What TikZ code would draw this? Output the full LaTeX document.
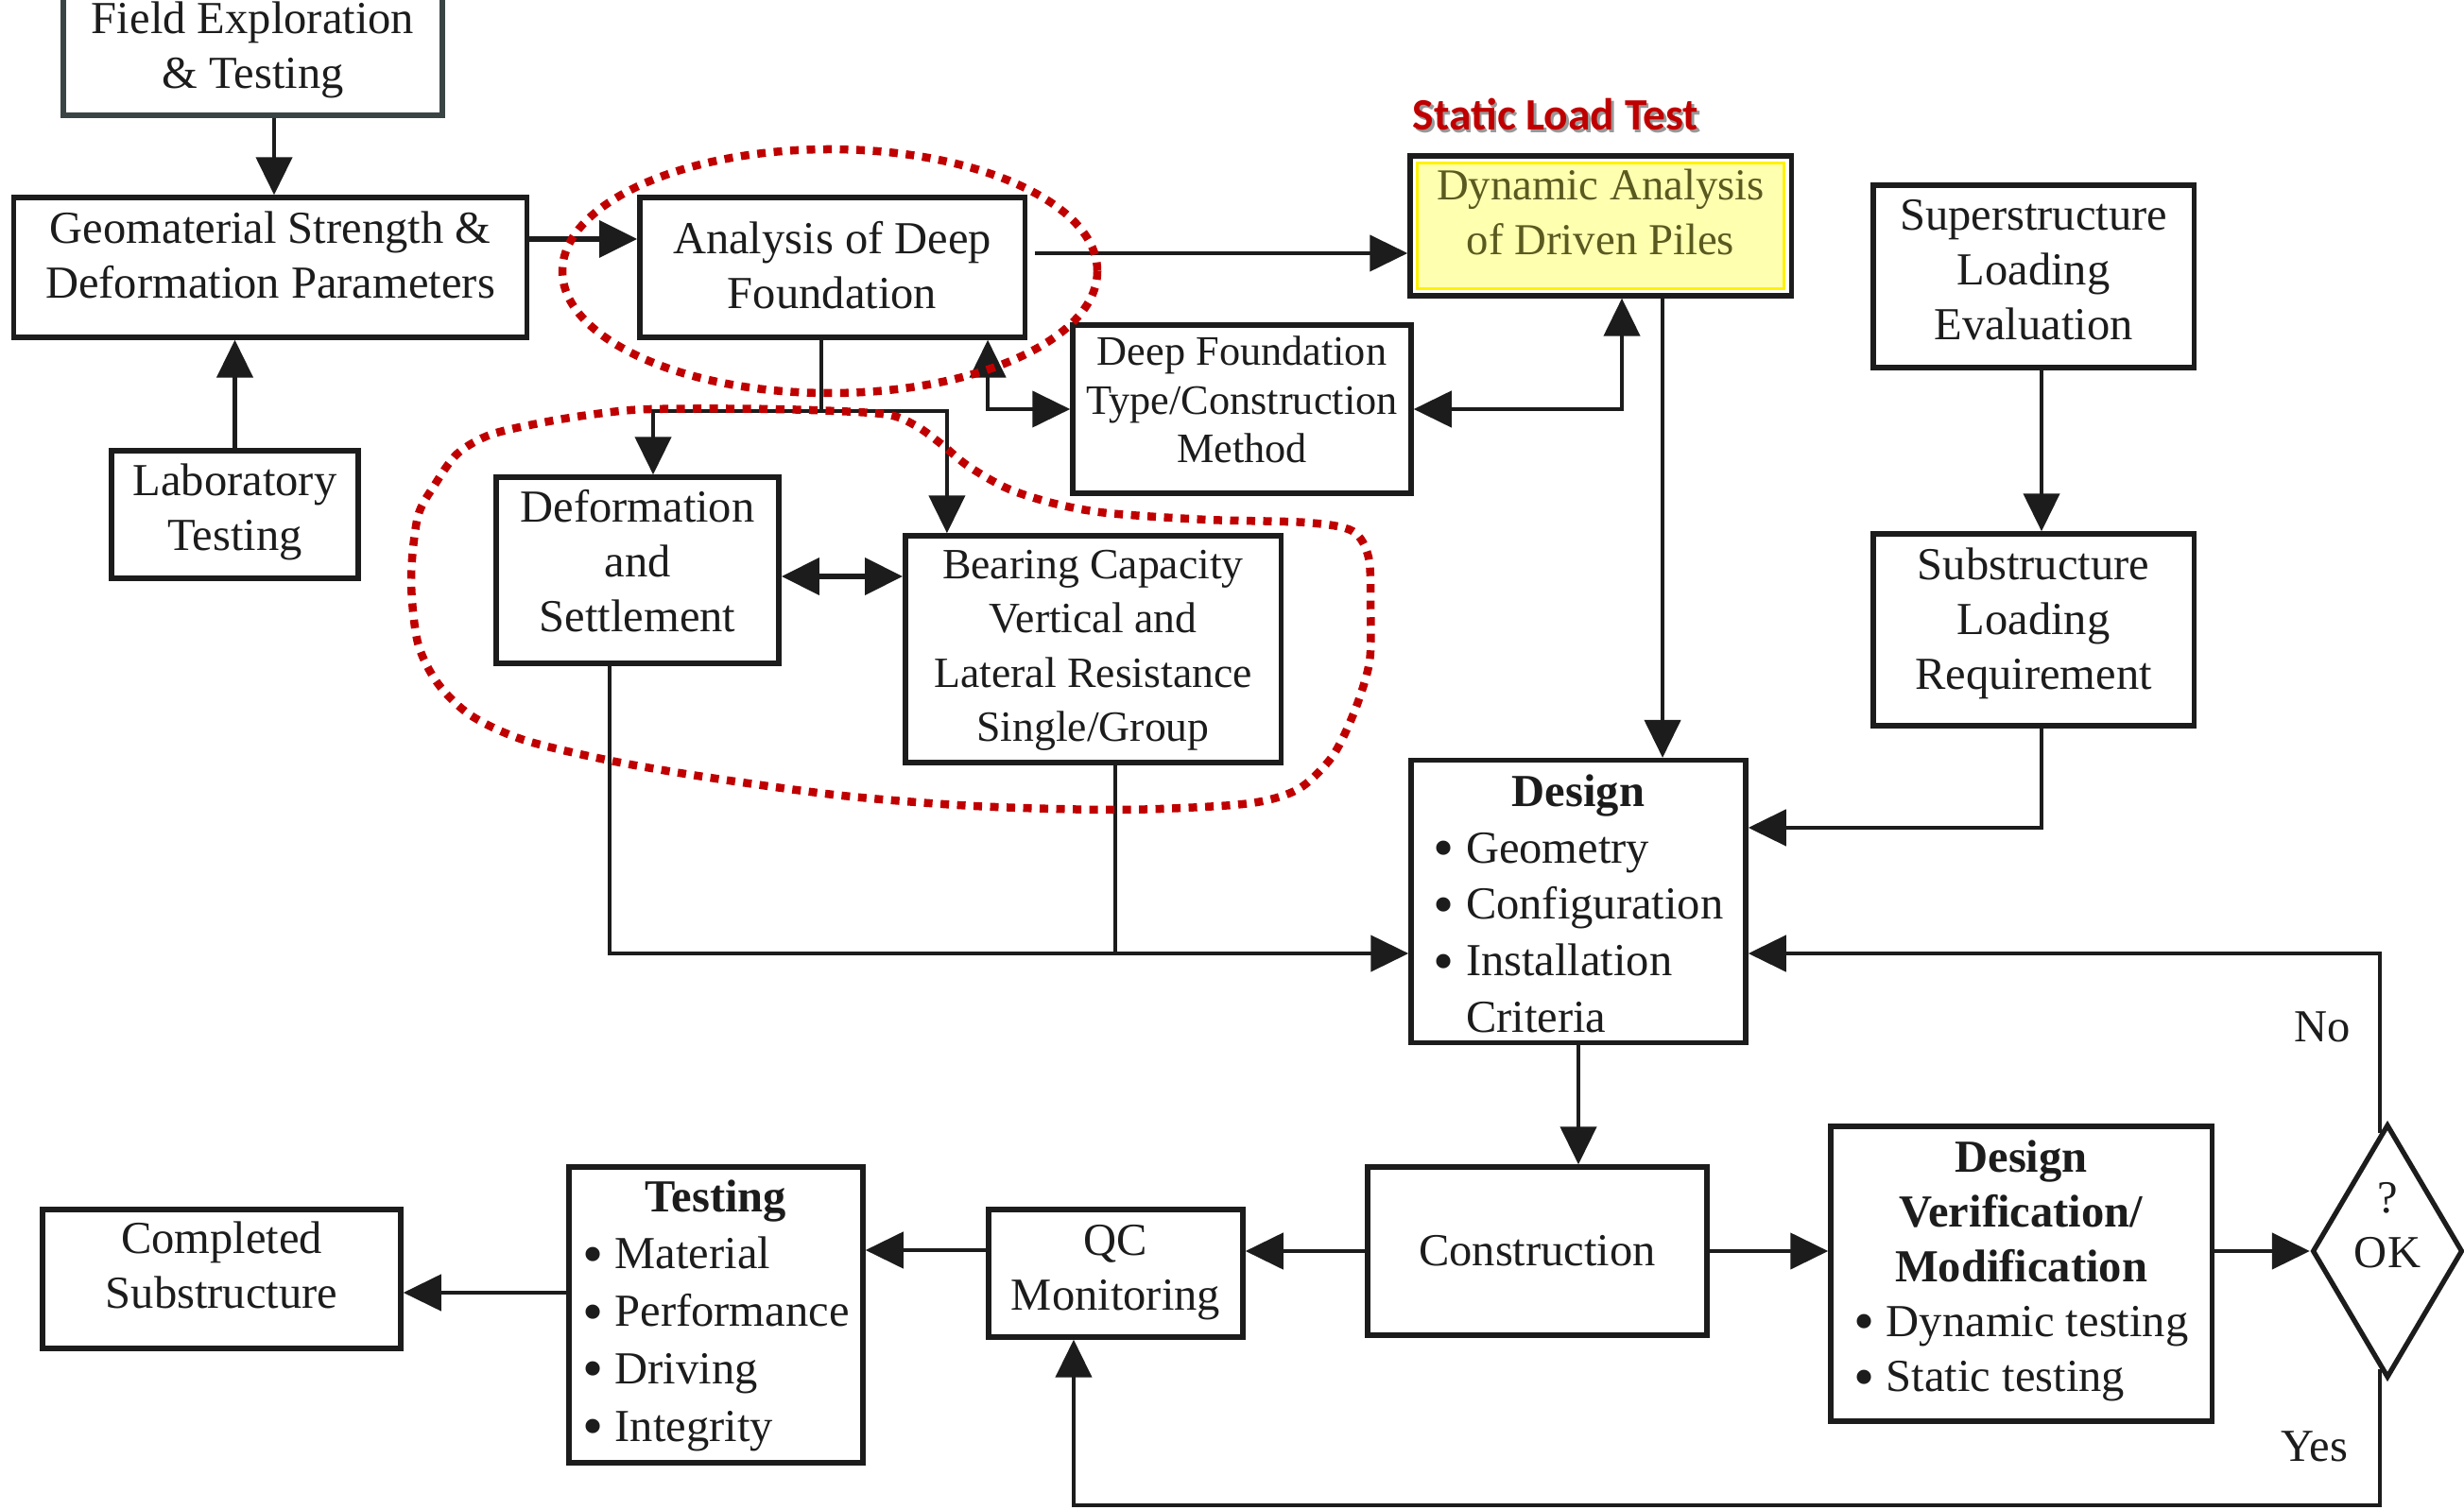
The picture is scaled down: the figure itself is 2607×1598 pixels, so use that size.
\documentclass[tikz,border=0pt]{standalone}
\usepackage{fontspec}
\usepackage{graphicx}
\setmainfont{Liberation Serif}
\newfontfamily\calfont{Carlito}
\usetikzlibrary{arrows.meta,shapes.geometric,calc}

\definecolor{ink}{HTML}{1C1C1C}
\definecolor{frame}{HTML}{3A4444}
\definecolor{dotred}{HTML}{C00000}
\definecolor{paleyel}{HTML}{FFFFB0}
\definecolor{piletext}{HTML}{5A5A20}

% bullet used in the item lists
\newcommand{\bul}{\raisebox{-0.11em}{\scalebox{1.3}{\textbullet}}\ }
% centred block of lines, lifted by #1 without changing its declared size
\newcommand{\tx}[2]{\raisebox{#1}[\height][\depth]{\begin{tabular}{@{}c@{}}#2\end{tabular}}}
% list block (first column header centred), lifted by #1
\newcommand{\tl}[2]{\raisebox{#1}[\height][\depth]{\begin{tabular}{@{}l@{}}#2\end{tabular}}}

\tikzset{
  box/.style={draw=ink, line width=1.5pt, rectangle, inner sep=0pt, align=center,
    text=ink, font=\fontsize{13.8}{16.5}\selectfont},
  conn/.style={draw=ink, line width=1.25pt},
  arr/.style={conn, -{Triangle[length=0.4cm,width=0.38cm]}},
  darr/.style={conn, {Triangle[length=0.4cm,width=0.38cm]}-{Triangle[length=0.4cm,width=0.38cm]}},
  reddots/.style={draw=dotred, line width=0.085cm, dash pattern=on 0.09cm off 0.085cm},
  lbl/.style={text=ink, inner sep=0pt, font=\fontsize{13.8}{16.5}\selectfont},
}

\begin{document}
\begin{tikzpicture}[x=0.01cm, y=-0.01cm]
\fill[white] (0,0) rectangle (2607,1598);
\useasboundingbox (0,0) rectangle (2607,1598);

% ---------- boxes ----------
\node[box, draw=frame, minimum width=4.01cm, minimum height=1.48cm] (field) at (267.5,48)
  {\tx{-0.05cm}{Field Exploration\\\& Testing}};
\node[box, minimum width=5.42cm, minimum height=1.48cm] (geo) at (286,283)
  {\tx{0.08cm}{Geomaterial Strength \&\\Deformation Parameters}};
\node[box, minimum width=4.07cm, minimum height=1.48cm] (analysis) at (880.5,283)
  {\tx{-0.03cm}{Analysis of Deep\\Foundation}};
\node[box, minimum width=4.03cm, minimum height=1.48cm, fill=white, text=piletext,
  font=\fontsize{13.3}{16.5}\selectfont,
  path picture={\draw[draw=yellow, line width=1pt, fill=paleyel]
    ([shift={(0.075cm,-0.075cm)}]path picture bounding box.north west) rectangle
    ([shift={(-0.075cm,0.075cm)}]path picture bounding box.south east);}]
  (dynamic) at (1693.5,239) {\tx{0.10cm}{Dynamic Analysis\\of Driven Piles}};
\node[box, minimum width=3.39cm, minimum height=1.93cm] (super) at (2151.5,292.5)
  {\tx{0.03cm}{Superstructure\\Loading\\Evaluation}};
\node[box, minimum width=2.61cm, minimum height=1.35cm] (lab) at (248.5,544.5)
  {\tx{0.03cm}{Laboratory\\Testing}};
\node[box, minimum width=3.58cm, minimum height=1.78cm, font=\fontsize{12.6}{14.6}\selectfont]
  (dft) at (1314,433) {\tx{0.05cm}{Deep Foundation\\Type/Construction\\Method}};
\node[box, minimum width=2.99cm, minimum height=1.97cm] (deform) at (674.5,603.5)
  {\tx{0.05cm}{Deformation\\and\\Settlement}};
\node[box, minimum width=3.97cm, minimum height=2.40cm, font=\fontsize{13}{16.3}\selectfont]
  (bearing) at (1156.5,687) {\tx{0cm}{Bearing Capacity\\Vertical and\\Lateral Resistance\\Single/Group}};
\node[box, minimum width=3.39cm, minimum height=2.03cm] (sub) at (2151.5,666.5)
  {\tx{0.07cm}{Substructure\\Loading\\Requirement}};
\node[box, minimum width=3.54cm, minimum height=2.98cm, font=\fontsize{13.8}{17}\selectfont]
  (design) at (1670,954)
  {\tl{-0.07cm}{\multicolumn{1}{c}{\textbf{Design}}\\
   \bul Geometry\\ \bul Configuration\\ \bul Installation\\ \hphantom{\bul}Criteria}};
\node[box, minimum width=3.59cm, minimum height=1.78cm] (constr) at (1626.5,1324)
  {Construction};
\node[box, minimum width=4.03cm, minimum height=3.12cm, font=\fontsize{13.8}{16.5}\selectfont]
  (dv) at (2138.5,1348)
  {\tl{0.03cm}{\multicolumn{1}{c}{\textbf{Design}}\\
   \multicolumn{1}{c}{\textbf{Verification/}}\\ \multicolumn{1}{c}{\textbf{Modification}}\\
   \bul Dynamic testing\\ \bul Static testing}};
\node[draw=ink, line width=1.5pt, diamond, inner sep=0pt, minimum width=1.59cm,
  minimum height=2.68cm] (ok) at (2526,1324) {};
\node[lbl, align=center] (okq) at (2526,1297) {?\\OK};
\node[box, minimum width=2.69cm, minimum height=1.35cm] (qc) at (1180.5,1347.5)
  {\tx{0.02cm}{QC\\Monitoring}};
\node[box, minimum width=3.11cm, minimum height=3.13cm, font=\fontsize{13.8}{17.3}\selectfont]
  (testing) at (757.5,1391.5)
  {\tl{0cm}{\multicolumn{1}{c}{\textbf{Testing}}\\
   \bul Material\\ \bul Performance\\ \bul Driving\\ \bul Integrity}};
\node[box, minimum width=3.79cm, minimum height=1.47cm] (completed) at (234.5,1353.5)
  {\tx{0.10cm}{Completed\\Substructure}};

% ---------- labels ----------
\node[text=black!40, font=\calfont\bfseries\fontsize{13.5}{16}\selectfont, inner sep=0pt]
  (sltshade) at (1648.5,123.5) {Static Load Test};
\node[text=dotred, font=\calfont\bfseries\fontsize{13.5}{16}\selectfont, inner sep=0pt]
  (slt) at (1646,121) {Static Load Test};
\node[lbl] (nolab) at (2457,1087) {No};
\node[lbl] (yeslab) at (2449,1531) {Yes};

% ---------- connectors ----------
\coordinate (f1) at ([xshift=.225cm]field.south);
\draw[arr] (f1) -- (f1 |- geo.north);
\draw[arr] (lab.north) -- (lab.north |- geo.south);
\coordinate (g1) at ([yshift=.3cm]geo.east);
\draw[arr, line width=1.8pt] (g1) -- (g1 -| analysis.west);
\coordinate (a1) at ([xshift=.08cm,yshift=.15cm]analysis.east);
\draw[arr] (a1) -- (a1 -| dynamic.west);

\coordinate (a2) at ([xshift=-.115cm]analysis.south);
\coordinate (split) at ([yshift=-.75cm]a2);
\draw[conn] (a2) -- (split);
\draw[arr] (split) -| ([xshift=.165cm]deform.north);
\draw[arr] (split) -| ([xshift=-1.545cm]bearing.north);

\draw[darr] ([xshift=1.645cm]analysis.south) |- (dft.west);
\draw[darr] (dft.east) -| ([xshift=.225cm]dynamic.south);
\coordinate (d1) at ([xshift=.655cm]dynamic.south);
\draw[arr] (d1) -- (d1 |- design.north);

\coordinate (s1) at ([xshift=.085cm]super.south);
\draw[arr] (s1) -- (s1 |- sub.north);
\draw[arr] ([xshift=.085cm]sub.south) |- ([yshift=.78cm]design.east);

\coordinate (b1) at ([yshift=-.065cm]deform.east);
\draw[darr, line width=1.8pt] (b1) -- (b1 -| bearing.west);
\coordinate (m1) at ([yshift=-.55cm]design.west);
\draw[arr] ([xshift=-.295cm]deform.south) |- (m1);
\coordinate (b2) at ([xshift=.235cm]bearing.south);
\draw[conn] (b2) -- (b2 |- m1);

\draw[arr] (design.south) -- (design.south |- constr.north);
\draw[arr] (constr.west) -- (constr.west -| qc.east);
\coordinate (q1) at ([yshift=.245cm]qc.west);
\draw[arr] (q1) -- (q1 -| testing.east);
\coordinate (t1) at ([yshift=.235cm]testing.west);
\draw[arr] (t1) -- (t1 -| completed.east);
\draw[arr] (constr.east) -- (constr.east -| dv.west);
\draw[arr] (ok.west -| dv.east) -- (ok.west);

\coordinate (n1) at ([xshift=-.08cm,yshift=-.12cm]ok.north);
\draw[arr] (n1) |- ([yshift=-.55cm]design.east);
\coordinate (y1) at ([xshift=-.08cm,yshift=.12cm]ok.south);
\coordinate (y2) at ([yshift=-1.44cm]y1);
\draw[arr] (y1) -- (y2) -| ([xshift=-.445cm]qc.south);

% ---------- dotted red outlines ----------
\draw[reddots] (878,287) ellipse [x radius=283, y radius=129];
\draw[reddots] plot[smooth cycle, tension=0.5] coordinates {
  (688,433) (821,433) (933,438) (968,450) (996,470) (1024,493) (1066,517) (1116,533)
  (1172,543) (1277,550) (1382,553) (1431,562) (1448,590) (1450,640) (1449,700)
  (1433,753) (1410,800) (1377,833) (1340,847) (1290,853) (1180,857) (1031,853)
  (891,842) (751,823) (646,805) (554,783) (498,757) (463,723) (442,680) (435,613)
  (442,547) (460,513) (484,480) (519,460) (575,447) (631,438)};
\end{tikzpicture}
\end{document}
